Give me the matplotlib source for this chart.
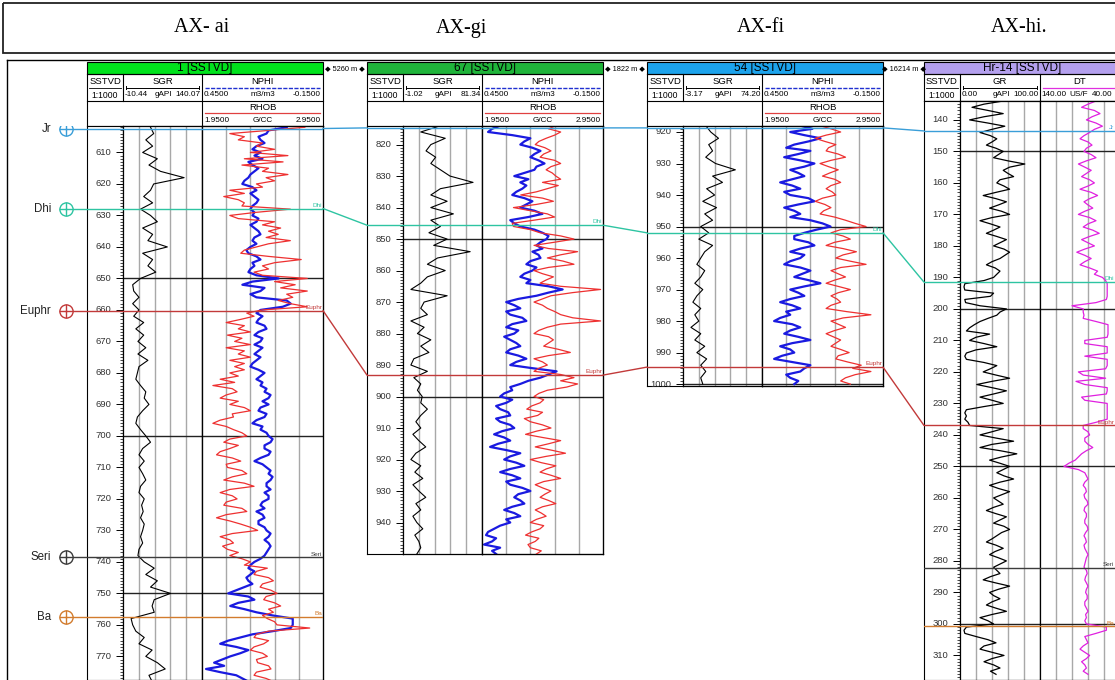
import numpy as np
import matplotlib
matplotlib.use("Agg")
import matplotlib.pyplot as plt
from matplotlib.patches import Rectangle, ConnectionPatch
from matplotlib.ticker import MultipleLocator

plt.rcParams["font.family"] = ["Liberation Sans", "DejaVu Sans"]

W, H = 1115, 680

# ---- titles / headers
titles = ["AX- ai", "AX-gi", "AX-fi", "AX-hi."]
title_x = [202, 461, 761, 1019]
well_names = ["1 [SSTVD]", "67 [SSTVD]", "54 [SSTVD]", "Hr-14 [SSTVD]"]
bar_colors = ["#00e21c", "#1fb43a", "#1ca3ec", "#b4a0ee"]
distances = ["5260 m", "1822 m", "16214 m"]

# depth window shown in each well (m)
depth_top = [601.6, 814.1, 918.1, 134.0]
depth_bot = [777.5, 950.0, 1000.6, 317.8]
gr_step = 2.0     # SGR of wells 1-3 sampled every 2 m
por_step = 1.0    # NPHI / RHOB sampled every 1 m
w4_step = 1.0     # GR / DT of well 4 sampled every 1 m

# track 1 (gamma ray) scales
gr_names = ["SGR", "SGR", "SGR", "GR"]
gr_left = [-10.44, -1.02, -3.17, 0.00]
gr_right = [140.07, 81.34, 74.20, 100.00]

# ---- well 1
w1_start = 602
w1_sgr = [42, 48, 33, 46, 27, 55, 39, 61, 106, 48, 42, 29, 46, 23, 42, 55, 27, 46, 37, 74,
          27, 46, 37, 52, 23, 8, 10, 20, 8, 20, 10, 29, 14, 29, 18, 33, 18, 37, 20,
          17, 14, 23, 33, 30, 39, 27, 17, 14, 23, 33, 42, 27, 20, 30, 20, 27, 33, 23, 20,
          30, 25, 28, 23, 30, 27, 23, 27, 20, 18, 30, 49, 33, 55, 42, 80, 49, 45, 49, 5,
          8, 14, 30, 20, 45, 33, 55, 70, 39, 45]
w1_nphi = [0.03, 0.12, 0.13, 0.17, 0.16, 0.14, 0.18, 0.20, 0.16, 0.19,
           0.15, 0.22, 0.20, 0.17, 0.19, 0.21, 0.22, 0.24, 0.25, 0.20,
           0.18, 0.21, 0.19, 0.17, 0.18, 0.20, 0.21, 0.19, 0.20, 0.17,
           0.18, 0.21, 0.19, 0.17, 0.16, 0.19, 0.20, 0.18, 0.21, 0.23,
           0.22, 0.18, 0.16, 0.20, 0.19, 0.21, 0.22, 0.18, 0.07, 0.20,
           0.25, 0.14, 0.16, 0.21, 0.18, 0.03, 0.01, 0.05, 0.16, 0.18,
           0.15, 0.17, 0.18, 0.14, 0.13, 0.17, 0.19, 0.15, 0.16, 0.19,
           0.15, 0.17, 0.19, 0.16, 0.18, 0.20, 0.21, 0.17, 0.14, 0.16,
           0.18, 0.15, 0.16, 0.13, 0.14, 0.11, 0.12, 0.15, 0.12, 0.16,
           0.17, 0.13, 0.14, 0.18, 0.20, 0.15, 0.16, 0.13, 0.12, 0.10,
           0.11, 0.14, 0.14, 0.11, 0.12, 0.16, 0.19, 0.15, 0.13, 0.11,
           0.12, 0.10, 0.11, 0.13, 0.13, 0.11, 0.14, 0.12, 0.12, 0.15,
           0.16, 0.14, 0.18, 0.15, 0.14, 0.17, 0.17, 0.14, 0.13, 0.11,
           0.12, 0.14, 0.12, 0.11, 0.12, 0.13, 0.14, 0.16, 0.19, 0.21,
           0.22, 0.19, 0.21, 0.23, 0.22, 0.20, 0.24, 0.28, 0.32, 0.22,
           0.19, 0.27, 0.31, 0.24, 0.18, 0.10, 0.00, 0.00, 0.00, 0.01,
           0.10, 0.20, 0.26, 0.32, 0.36, 0.28, 0.22, 0.26, 0.31, 0.35,
           0.39, 0.34, 0.43, 0.36, 0.28, 0.25, 0.22]
w1_rhob = [2.80, 2.50, 2.18, 2.30, 2.25, 2.45, 2.40, 2.55, 2.35, 2.66,
           2.30, 2.62, 2.28, 2.50, 2.45, 2.66, 2.48, 2.55, 2.40, 2.45,
           2.18, 2.30, 2.13, 2.25, 2.30, 2.28, 2.68, 2.40, 2.18, 2.25,
           2.55, 2.45, 2.60, 2.50, 2.58, 2.48, 2.68, 2.50, 2.40, 2.30,
           2.27, 2.50, 2.77, 2.55, 2.45, 2.50, 2.38, 2.45, 2.82, 2.55,
           2.72, 2.60, 2.82, 2.65, 2.70, 2.58, 2.68, 2.82, 2.45, 2.32,
           2.38, 2.27, 2.15, 2.30, 2.25, 2.35, 2.16, 2.28, 2.22, 2.35,
           2.15, 2.30, 2.25, 2.35, 2.18, 2.30, 2.22, 2.30, 2.18, 2.25,
           2.10, 2.22, 2.04, 2.20, 2.24, 2.15, 2.10, 2.25, 2.18, 2.30,
           2.35, 2.20, 2.21, 2.10, 2.04, 2.15, 2.21, 2.28, 2.32, 2.18,
           2.13, 2.25, 2.18, 2.10, 2.07, 2.20, 2.27, 2.15, 2.16, 2.28,
           2.32, 2.20, 2.13, 2.30, 2.38, 2.18, 2.10, 2.20, 2.24, 2.15,
           2.13, 2.28, 2.32, 2.15, 2.07, 2.18, 2.27, 2.35, 2.41, 2.20,
           2.10, 2.18, 2.21, 2.12, 2.16, 2.25, 2.18, 2.28, 2.35, 2.30,
           2.49, 2.40, 2.38, 2.50, 2.54, 2.45, 2.43, 2.52, 2.57, 2.48,
           2.46, 2.55, 2.60, 2.50, 2.54, 2.45, 2.49, 2.55, 2.57, 2.84,
           2.50, 2.40, 2.38, 2.50, 2.46, 2.38, 2.35, 2.45, 2.49, 2.40,
           2.41, 2.50, 2.52, 2.40, 2.38, 2.48, 2.54]

# ---- well 2
w2_start = 814
w2_sgr = [38, 17.5, 43, 28, 23, 33, 28, 38, 48,
          72, 38, 28, 45, 28, 51.5, 28, 38, 26, 45, 31, 69, 35, 24.4, 43, 24.4, 17.5, 7.2,
          45, 21, 17.5, 24.4, 7.2, 21, 14, 28, 17.5, 26, 10.3, 7.2, 24.4, 10.3, 17.5, 14,
          19, 17.5, 24.4, 17.5,
          12.4, 17.5, 9.3, 15.5, 22.7, 12.4, 7.2, 17.5, 11.3, 19.6, 9.3, 15.5, 22.7, 12.4,
          17.5, 9.3, 13.4, 19.6, 11.3, 15.5, 17.5, 13.4]
w2_nphi = [0.36, 0.40, 0.42, 0.30, 0.21, 0.24, 0.26, 0.20, 0.16, 0.19,
           0.21, 0.17, 0.14, 0.18, 0.19, 0.24, 0.29, 0.22, 0.26, 0.23,
           0.25, 0.28, 0.30, 0.24, 0.20, 0.23, 0.26, 0.19, 0.15, 0.22,
           0.31, 0.29, 0.26, 0.19, 0.15, 0.12, 0.13, 0.16, 0.18, 0.15,
           0.20, 0.17, 0.16, 0.21, 0.23, 0.18, 0.20, 0.24, 0.26, 0.21,
           0.23, 0.12, 0.05, 0.12, 0.18, 0.27, 0.33, 0.29, 0.26, 0.33,
           0.31, 0.25, 0.23, 0.30, 0.33, 0.27, 0.29, 0.34, 0.31, 0.28,
           0.26, 0.31, 0.33, 0.27, 0.23, 0.28, 0.31, 0.20, 0.08, 0.12,
           0.16, 0.22, 0.26, 0.31, 0.30, 0.34, 0.36, 0.30, 0.33, 0.38,
           0.36, 0.32, 0.31, 0.38, 0.36, 0.31, 0.29, 0.35, 0.39, 0.34,
           0.31, 0.37, 0.41, 0.33, 0.26, 0.31, 0.34, 0.28, 0.24, 0.31,
           0.36, 0.30, 0.26, 0.33, 0.31, 0.25, 0.21, 0.27, 0.29, 0.26,
           0.24, 0.30, 0.34, 0.29, 0.26, 0.33, 0.31, 0.36, 0.39, 0.42,
           0.43, 0.38, 0.40, 0.44, 0.36, 0.40, 0.38]
w2_rhob = [2.56, 2.50, 2.60, 2.55, 2.48, 2.42, 2.39, 2.47, 2.52, 2.46,
           2.43, 2.55, 2.60, 2.52, 2.48, 2.53, 2.56, 2.60, 2.45, 2.58,
           2.49, 2.40, 2.27, 2.45, 2.54, 2.40, 2.21, 2.35, 2.49, 2.55,
           2.38, 2.20, 2.21, 2.35, 2.43, 2.60, 2.71, 2.55, 2.38, 2.50,
           2.74, 2.60, 2.49, 2.62, 2.71, 2.50, 2.38, 2.45, 2.54, 2.48,
           2.43, 2.60, 2.93, 2.70, 2.52, 2.45, 2.38, 2.45, 2.49, 2.55,
           2.60, 2.70, 2.93, 2.60, 2.49, 2.42, 2.38, 2.50, 2.54, 2.50,
           2.46, 2.58, 2.68, 2.50, 2.38, 2.45, 2.49, 2.42, 2.38, 2.60,
           2.71, 2.60, 2.74, 2.65, 2.49, 2.42, 2.38, 2.46, 2.43, 2.36,
           2.32, 2.45, 2.41, 2.30, 2.35, 2.45, 2.52, 2.40, 2.31, 2.45,
           2.60, 2.50, 2.39, 2.52, 2.64, 2.48, 2.35, 2.44, 2.56, 2.48,
           2.43, 2.52, 2.60, 2.46, 2.39, 2.45, 2.52, 2.47, 2.43, 2.50,
           2.56, 2.45, 2.39, 2.44, 2.48, 2.40, 2.35, 2.46, 2.43, 2.36,
           2.31, 2.42, 2.39, 2.33, 2.35, 2.44, 2.40]

# ---- well 3
w3_start = 918
w3_sgr = [19.1, 24.0, 31.6, 22.0, 25.8, 19.1, 28.7, 48.1, 25.8, 35.5, 20.0, 27.8, 16.2,
          29.7, 18.1, 25.8, 14.2, 22.0, 12.3, 25.8, 18.1, 14.2, 10.4, 18.1, 14.2, 8.4,
          16.2, 10.4, 6.5, 14.2, 8.4, 12.3, 4.6, 14.2, 8.4, 18.1, 10.4, 20.0, 14.2, 19.1,
          14.2, 16.2]
w3_nphi = [0.26, 0.20, 0.31, 0.24, 0.16, 0.22, 0.29, 0.33, 0.21, 0.27,
           0.34, 0.26, 0.19, 0.24, 0.31, 0.27, 0.24, 0.30, 0.36, 0.30,
           0.26, 0.34, 0.31, 0.22, 0.19, 0.27, 0.34, 0.29, 0.26, 0.31,
           0.21, 0.15, 0.11, 0.18, 0.24, 0.29, 0.29, 0.22, 0.19, 0.26,
           0.31, 0.24, 0.26, 0.31, 0.34, 0.26, 0.21, 0.25, 0.29, 0.22,
           0.16, 0.24, 0.31, 0.27, 0.24, 0.31, 0.36, 0.30, 0.26, 0.33,
           0.31, 0.36, 0.39, 0.30, 0.26, 0.31, 0.34, 0.27, 0.21, 0.30,
           0.36, 0.31, 0.29, 0.35, 0.39, 0.30, 0.21, 0.24, 0.26, 0.33,
           0.31, 0.27, 0.29]
w3_rhob = [2.43, 2.52, 2.60, 2.48, 2.39, 2.47, 2.56, 2.50, 2.48, 2.58,
           2.64, 2.52, 2.43, 2.50, 2.58, 2.51, 2.45, 2.55, 2.60, 2.52,
           2.48, 2.53, 2.56, 2.45, 2.39, 2.47, 2.52, 2.46, 2.43, 2.55,
           2.64, 2.72, 2.81, 2.60, 2.52, 2.62, 2.68, 2.55, 2.48, 2.62,
           2.73, 2.62, 2.56, 2.68, 2.81, 2.60, 2.52, 2.58, 2.64, 2.55,
           2.48, 2.58, 2.68, 2.58, 2.52, 2.57, 2.60, 2.52, 2.48, 2.65,
           2.85, 2.62, 2.52, 2.58, 2.64, 2.55, 2.48, 2.54, 2.60, 2.56,
           2.52, 2.60, 2.67, 2.58, 2.56, 2.66, 2.77, 2.70, 2.85, 2.72,
           2.64, 2.60, 2.68]

# ---- well 4  (134 .. 316 m, every 1 m)
w4_start = 134
w4_gr = [54, 30, 15, 35, 54, 30, 12, 35, 56, 40,
         25, 38, 46, 40, 33, 45, 54, 48, 42, 60,
         81, 62, 54, 60, 67, 50, 46, 55, 62, 45,
         29, 45, 58, 48, 37, 52, 62, 40, 25, 38,
         50, 42, 33, 46, 58, 50, 42, 55, 62, 56,
         50, 40, 33, 44, 50, 46, 42, 30, 6, 5,
         6, 42, 38, 6, 7, 25, 58, 50, 46, 35,
         25, 18, 12, 8, 37, 20, 12, 30, 46, 20,
         8, 6, 8, 30, 46, 38, 29, 45, 62, 40,
         21, 40, 58, 42, 25, 40, 54, 30, 8, 6,
         8, 6, 10, 12, 54, 40, 25, 45, 67, 40,
         25, 50, 71, 52, 37, 50, 62, 54, 46, 55,
         67, 50, 37, 48, 62, 52, 42, 48, 54, 42,
         33, 45, 58, 50, 42, 55, 62, 52, 46, 40,
         33, 45, 54, 44, 37, 48, 58, 50, 42, 46,
         50, 38, 29, 45, 62, 48, 37, 42, 50, 40,
         33, 45, 58, 40, 25, 35, 42, 8, 5, 6,
         20, 35, 45, 30, 25, 40, 55, 40, 30, 42,
         50, 38, 45]
w4_dt = [70, 80, 88, 72, 65, 75, 82, 70, 62, 72,
         78, 85, 90, 80, 75, 82, 85, 76, 70, 82,
         92, 84, 76, 82, 88, 78, 72, 80, 90, 76,
         68, 78, 85, 80, 74, 84, 92, 78, 70, 80,
         86, 74, 66, 78, 88, 80, 72, 84, 94, 84,
         76, 84, 90, 78, 68, 72, 62, 58, 56, 56,
         56, 56, 56, 57, 70, 100, 86, 86, 85, 86,
         70, 55, 55, 55, 55, 56, 84, 84, 56, 56,
         56, 84, 56, 56, 56, 58, 92, 86, 58, 95,
         84, 56, 56, 57, 88, 84, 56, 56, 56, 56,
         56, 56, 70, 86, 86, 80, 78, 84, 84, 80,
         74, 82, 88, 92, 96, 104, 110, 92, 84, 82,
         80, 84, 86, 83, 82, 85, 84, 81, 80, 84,
         85, 82, 82, 84, 84, 81, 80, 83, 85, 83,
         82, 85, 84, 82, 80, 82, 83, 84, 85, 82,
         81, 83, 84, 82, 80, 82, 83, 81, 81, 84,
         84, 82, 80, 83, 82, 84, 82, 57, 57, 70,
         84, 82, 80, 86, 90, 84, 78, 82, 88, 84,
         82, 86, 80]

# ---- formation tops (m)
marker_colors = {"Jr": "#3a9ed8", "Dhi": "#2ec4a2", "Euphr": "#c23a3a",
                 "Seri": "#3c3c3c", "Ba": "#d27c2e"}
tops = [
    {"Jr": 602.4, "Dhi": 627.8, "Euphr": 660.2, "Seri": 738.6, "Ba": 757.6},
    {"Jr": 814.7, "Dhi": 845.6, "Euphr": 893.2},
    {"Jr": 918.7, "Dhi": 952.0, "Euphr": 994.6},
    {"Jr": 143.5, "Dhi": 191.5, "Euphr": 237.0, "Seri": 282.2, "Ba": 300.8},
]
labelled = [["Dhi", "Euphr", "Seri", "Ba"], ["Dhi", "Euphr"], ["Dhi", "Euphr"],
            ["Jr", "Dhi", "Euphr", "Seri", "Ba"]]

# ---- layout (pixels)
well_x = [87, 367, 647, 924]
depth_w = 36
t1_w = [79, 79, 79, 80]
t2_w = [121, 121, 121, 80]
track_top = [126, 126, 126, 101]
track_bot = [680, 554, 386, 680]

fig = plt.figure(figsize=(W / 100, H / 100), dpi=100)


def px_axes(x, y, w, h):
    return fig.add_axes([x / W, 1 - (y + h) / H, w / W, h / H])


bg = px_axes(0, 0, W, H)
bg.set_xlim(0, W)
bg.set_ylim(H, 0)
bg.axis("off")

# title box
bg.add_patch(Rectangle((3, 3), 1125, 50, fill=False, lw=1.3, ec="#222222"))
for t, x in zip(titles, title_x):
    bg.text(x, 28, t, ha="center", va="center", fontsize=14.5, family="Liberation Serif")
bg.plot([7, 7], [60, H], color="black", lw=1)
bg.plot([7, W], [60, 60], color="black", lw=1)


def header(i):
    xa = well_x[i]
    xb = xa + depth_w
    xc = xb + t1_w[i]
    xd = xc + t2_w[i]
    k = dict(lw=0.8, color="black")
    bg.add_patch(Rectangle((xa, 62), xd - xa, 12, fc=bar_colors[i], ec="black", lw=0.8))
    bg.text((xa + xd) / 2, 68.5, well_names[i], ha="center", va="center", fontsize=8.5)
    bottom = track_top[i]
    bg.plot([xa, xd, xd, xa, xa], [74, 74, bottom, bottom, 74], **k)
    bg.plot([xa, xd], [101, 101], **k)
    bg.plot([xb, xb], [74, 101], **k)
    bg.plot([xc, xc], [74, bottom], **k)
    bg.plot([xa + 2, xb - 2], [88, 88], lw=0.6, color="black")
    fs = 5.9
    bg.text((xa + xb) / 2, 81, "SSTVD", ha="center", va="center", fontsize=6.8)
    bg.text((xa + xb) / 2, 95, "1:1000", ha="center", va="center", fontsize=6.2)
    # gamma ray
    bg.text((xb + xc) / 2, 81, gr_names[i], ha="center", va="center", fontsize=6.8)
    bg.plot([xb + 3, xc - 3], [87.5, 87.5], lw=0.7, color="black")
    bg.plot([xb + 3, xb + 3], [86, 89], lw=0.7, color="black")
    bg.plot([xc - 3, xc - 3], [86, 89], lw=0.7, color="black")
    bg.text(xb + 2, 95, f"{gr_left[i]:.2f}", ha="left", va="center", fontsize=fs)
    bg.text((xb + xc) / 2 + 1, 95, "gAPI", ha="center", va="center", fontsize=fs)
    bg.text(xc - 1, 95, f"{gr_right[i]:.2f}", ha="right", va="center", fontsize=fs)
    if i < 3:
        bg.text((xc + xd) / 2, 81, "NPHI", ha="center", va="center", fontsize=6.8)
        bg.plot([xc + 3, xd - 3], [87.5, 87.5], lw=1, color="#2030d0", ls=(0, (3, 1)))
        bg.text(xc + 2, 95, "0.4500", ha="left", va="center", fontsize=fs)
        bg.text((xc + xd) / 2, 95, "m3/m3", ha="center", va="center", fontsize=fs)
        bg.text(xd - 2, 95, "-0.1500", ha="right", va="center", fontsize=fs)
        bg.text((xc + xd) / 2, 107, "RHOB", ha="center", va="center", fontsize=6.8)
        bg.plot([xc + 3, xd - 3], [113, 113], lw=0.9, color="#e04040")
        bg.text(xc + 2, 120, "1.9500", ha="left", va="center", fontsize=fs)
        bg.text((xc + xd) / 2, 120, "G/CC", ha="center", va="center", fontsize=fs)
        bg.text(xd - 2, 120, "2.9500", ha="right", va="center", fontsize=fs)
    else:
        bg.text((xc + xd) / 2, 81, "DT", ha="center", va="center", fontsize=6.8)
        bg.plot([xc + 3, xd - 3], [87.5, 87.5], lw=0.9, color="#e030e0")
        bg.text(xc + 1, 95, "140.00", ha="left", va="center", fontsize=fs)
        bg.text(xc + 39, 95, "US/F", ha="center", va="center", fontsize=fs)
        bg.text(W - 2, 95, "40.00", ha="right", va="center", fontsize=fs)
    if i < 3:
        xn = well_x[i + 1]
        bg.text((xd + xn) / 2, 68.5, "\u25C6 " + distances[i] + " \u25C6", ha="center",
                va="center", fontsize=5.3)


def depth_col(i):
    h = track_bot[i] - track_top[i]
    ax = px_axes(well_x[i], track_top[i], depth_w, h)
    ax.set_xlim(0, 1)
    ax.set_ylim(depth_bot[i], depth_top[i])
    ax.yaxis.tick_right()
    ax.yaxis.set_major_locator(MultipleLocator(10))
    ax.yaxis.set_minor_locator(MultipleLocator(1))
    ax.tick_params(axis="y", which="major", direction="in", length=5, width=0.7,
                   labelright=False, labelleft=False)
    ax.tick_params(axis="y", which="minor", direction="in", length=2.3, width=0.5)
    ax.set_xticks([])
    for s in ax.spines.values():
        s.set_linewidth(0.8)
    first = np.ceil(depth_top[i] / 10) * 10
    for d in np.arange(first, depth_bot[i] - 0.3, 10):
        ax.text(0.68, d, f"{d:.0f}", transform=ax.get_yaxis_transform(), ha="right",
                va="center", fontsize=6.8, color="#333333")
    return ax


def track(i, x, w, lim):
    h = track_bot[i] - track_top[i]
    ax = px_axes(x, track_top[i], w, h)
    ax.set_xlim(*lim)
    ax.set_ylim(depth_bot[i], depth_top[i])
    ax.set_xticks(np.linspace(lim[0], lim[1], 6)[1:-1])
    ax.set_yticks(np.arange(np.ceil(depth_top[i] / 50) * 50, depth_bot[i], 50))
    ax.set_axisbelow(True)
    ax.xaxis.grid(True, color="#a8a8a8", lw=1)
    ax.yaxis.grid(True, color="#222222", lw=1)
    ax.tick_params(length=0, labelbottom=False, labelleft=False)
    for s in ax.spines.values():
        s.set_linewidth(0.9)
    return ax


def depths(start, vals, stp):
    return start + stp * np.arange(len(vals))


curves = [
    (w1_start, w1_sgr, w1_nphi, w1_rhob),
    (w2_start, w2_sgr, w2_nphi, w2_rhob),
    (w3_start, w3_sgr, w3_nphi, w3_rhob),
]

overlays = []
for i in range(4):
    header(i)
    depth_col(i)
    xb = well_x[i] + depth_w
    xc = xb + t1_w[i]
    a1 = track(i, xb, t1_w[i], (gr_left[i], gr_right[i]))
    if i < 3:
        start, sgr, nphi, rhob = curves[i]
        a1.plot(sgr, depths(start, sgr, gr_step), color="black", lw=0.8)
        a2 = track(i, xc, t2_w[i], (0.45, -0.15))
        a2.plot(nphi, depths(start, nphi, por_step), color="#1a1ae0", lw=1.6)
        a3 = a2.twiny()
        a3.set_xlim(1.95, 2.95)
        a3.tick_params(length=0, labeltop=False)
        a3.plot(rhob, depths(start, rhob, por_step), color="#ee3030", lw=0.9)
    else:
        a1.plot(w4_gr, depths(w4_start, w4_gr, w4_step), color="black", lw=0.9)
        a2 = track(i, xc, t2_w[i], (140, 40))
        a2.plot(w4_dt, depths(w4_start, w4_dt, w4_step), color="#e020e0", lw=0.9)

    # overlay with formation tops
    wtot = depth_w + t1_w[i] + t2_w[i]
    ov = px_axes(well_x[i], track_top[i], wtot, track_bot[i] - track_top[i])
    ov.set_xlim(0, 1)
    ov.set_ylim(depth_bot[i], depth_top[i])
    ov.axis("off")
    lab_x = (min(well_x[i] + wtot - 1, W - 1) - well_x[i]) / wtot
    for name, dep in tops[i].items():
        c = marker_colors[name]
        ov.plot([0, 1], [dep, dep], color=c, lw=1)
        if name in labelled[i]:
            ov.text(lab_x, dep - 0.3, name, ha="right", va="bottom", fontsize=4.6, color=c)
    overlays.append(ov)

# correlation lines between neighbouring wells
for i in range(3):
    for name, dep in tops[i].items():
        if name in tops[i + 1]:
            con = ConnectionPatch(xyA=(1, dep), coordsA=overlays[i].transData,
                                  xyB=(0, tops[i + 1][name]), coordsB=overlays[i + 1].transData,
                                  color=marker_colors[name], lw=1)
            fig.add_artist(con)

# formation top symbols left of well 1
lp = px_axes(7, track_top[0], 80, track_bot[0] - track_top[0])
lp.set_xlim(7, 87)
lp.set_ylim(depth_bot[0], depth_top[0])
lp.axis("off")
for name, dep in tops[0].items():
    c = marker_colors[name]
    lp.plot([73, 87], [dep, dep], color=c, lw=1)
    lp.plot(66, dep, marker="o", ms=9.5, mfc="white", mec=c, mew=1)
    lp.plot(66, dep, marker="+", ms=9.5, mec=c, mew=1)
    lp.text(51, dep, name, ha="right", va="center", fontsize=8.3, color="#222222")

fig.savefig("out.png", dpi=100, facecolor="white")
